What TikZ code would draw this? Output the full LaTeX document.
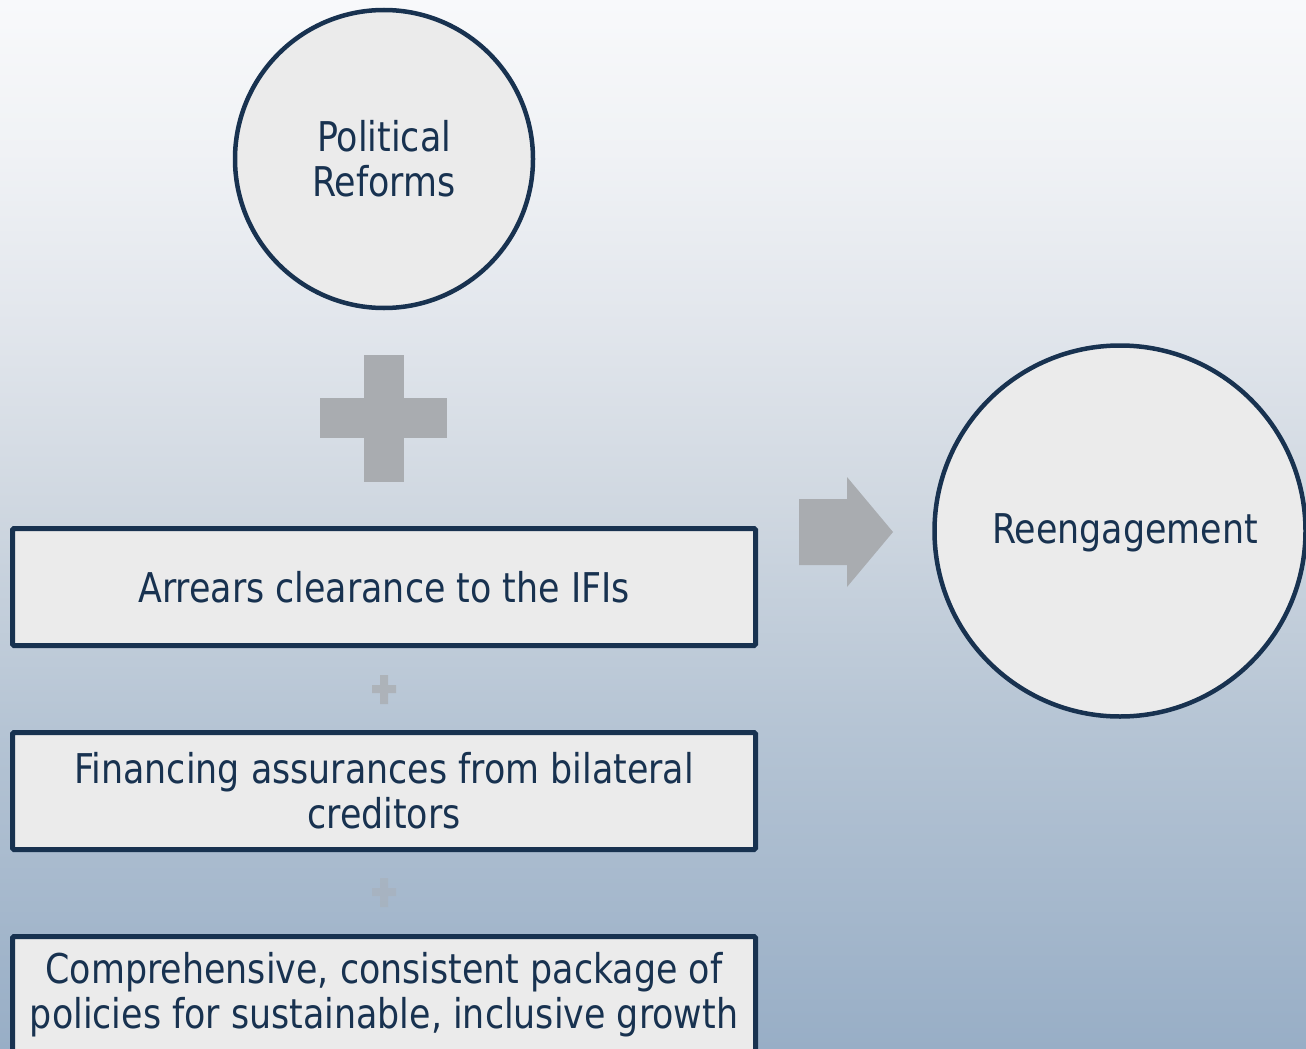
\documentclass[tikz,border=0pt]{standalone}
\usepackage{fontspec}
\setmainfont[FakeStretch=0.85]{DejaVu Sans}
\usepackage{xcolor}
\definecolor{Col1}{RGB}{24,50,80}
\definecolor{Col2}{RGB}{235,235,235}
\definecolor{Col3}{RGB}{169,172,176}
\definecolor{BgA}{RGB}{248,249,251}
\definecolor{BgB}{RGB}{240,242,245}
\definecolor{BgC}{RGB}{227,231,237}
\definecolor{BgD}{RGB}{208,216,225}
\definecolor{BgE}{RGB}{181,196,212}
\definecolor{BgF}{RGB}{152,174,198}
\usepackage{tikz}
\pgfdeclareverticalshading{Backdrop}{100bp}{color(0bp)=(BgF); color(25bp)=(BgF);
  color(40.2bp)=(BgE); color(51.15bp)=(BgD); color(60.2bp)=(BgC);
  color(67.85bp)=(BgB); color(75bp)=(BgA); color(100bp)=(BgA)}
\newcommand{\TxtSize}{\fontsize{41}{45}\selectfont}
\tikzstyle{Disc}=[circle,draw=Col1,fill=Col2,line width=4.5pt,inner sep=0pt,
align=center,text=Col1,font=\TxtSize]
\tikzstyle{Box}=[rectangle,draw=Col1,fill=Col2,line width=5pt,rounded corners=1.5pt,
minimum width=743pt,minimum height=117pt,inner sep=0pt,align=center,
text=Col1,font=\TxtSize]
\tikzstyle{Label}=[text=Col1,font=\TxtSize,inner sep=0pt]
\tikzstyle{Cross}=[fill=Col3]

\begin{document}
\begin{tikzpicture}[x=1pt,y=-1pt]
        \useasboundingbox(0,0)rectangle(1306,1049);
        \clip(0,0)rectangle(1306,1049);
        \fill[shading=Backdrop](0,0)rectangle(1306,1049);
        \node[Disc,minimum size=298pt](pol)at(384,159){Political\\Reforms};
        \node[Disc,minimum size=371pt](ree)at(1120,531){};
        \node[Label](reet)at(1125,533){Reengagement};
        \node[Box](arr)at(384,587){Arrears clearance to the IFIs};
        \node[Box](fin)at(384,791){Financing assurances from bilateral\\creditors};
        \node[Box](pac)at(384,995)
            {Comprehensive, consistent package of\\policies for sustainable, inclusive growth};
        % big plus
        \fill[Cross](364,355)rectangle(404,482);
        \fill[Cross](320,398)rectangle(447,438);
        % small plus signs between the boxes
        \fill[Cross,opacity=.75](380,675)--(388,675)--(388,685)--(396,685)--(396,693)
            --(388,693)--(388,704)--(380,704)--(380,693)--(372,693)--(372,685)
            --(380,685)--cycle;
        \fill[Cross,opacity=.4](380,878)--(388,878)--(388,888)--(396,888)--(396,896)
            --(388,896)--(388,907)--(380,907)--(380,896)--(372,896)--(372,888)
            --(380,888)--cycle;
        % block arrow
        \fill[Cross](799,499)--(847,499)--(847,477)--(893,532)--(847,587)
            --(847,565)--(799,565)--cycle;
    \end{tikzpicture}
\end{document}
